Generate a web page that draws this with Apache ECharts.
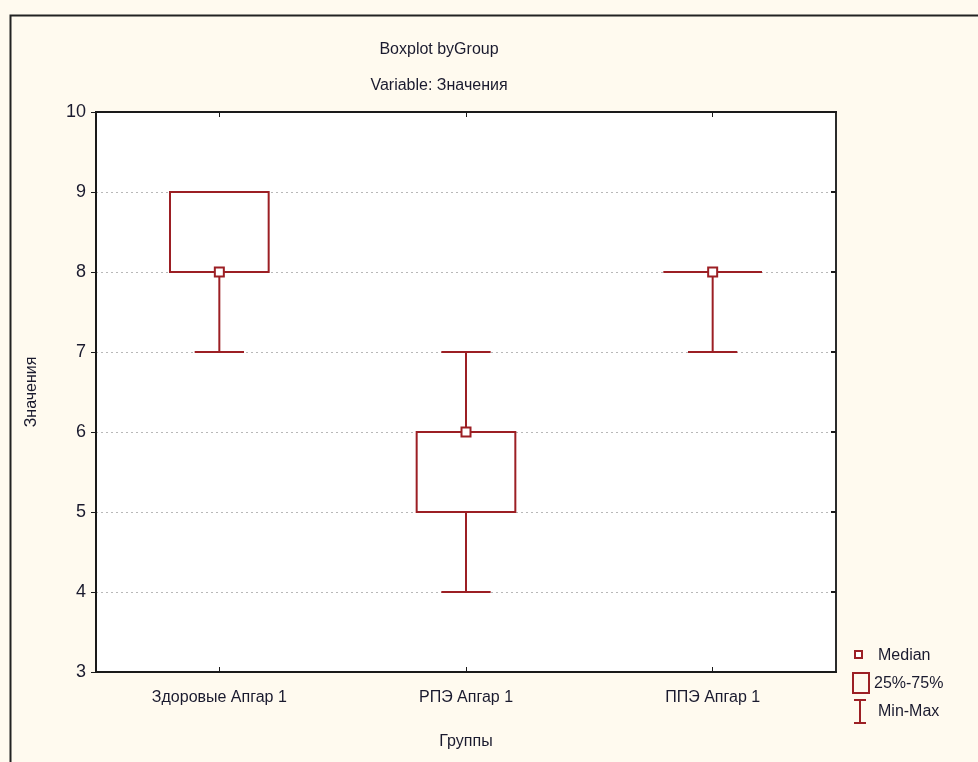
<!DOCTYPE html>
<html>
<head>
<meta charset="utf-8">
<script src="https://cdn.jsdelivr.net/npm/echarts@6/dist/echarts.min.js"></script>
<style>
html,body{margin:0;padding:0;background:#fffaef;}
#c{width:978px;height:762px;}
</style>
</head>
<body>
<div id="c"></div>
<script>
var categories = ['Здоровые Апгар 1', 'РПЭ Апгар 1', 'ППЭ Апгар 1'];
var mins    = [7, 4, 7];
var q1s     = [8, 5, 8];
var medians = [8, 6, 8];
var q3s     = [9, 6, 8];
var maxs    = [9, 7, 8];
var yTicks  = [3, 4, 5, 6, 7, 8, 9, 10];

var FONT = "'Liberation Sans Narrow', 'Liberation Sans', Arial, sans-serif";
var RED = '#9c1f24';

var data = categories.map(function (c, i) {
  return [i, mins[i], q1s[i], medians[i], q3s[i], maxs[i]];
});

var chart = echarts.init(document.getElementById('c'));

function renderItem(params, api) {
  var x = api.value(0);
  var pMin = api.coord([x, api.value(1)]);
  var pQ1 = api.coord([x, api.value(2)]);
  var pMed = api.coord([x, api.value(3)]);
  var pQ3 = api.coord([x, api.value(4)]);
  var pMax = api.coord([x, api.value(5)]);
  var bw = api.size([1, 0])[0] * 0.4;
  var cw = bw / 2;
  var cx = pMed[0];
  var st = { stroke: RED, lineWidth: 2, fill: null };
  var children = [];
  if (pMin[1] !== pQ1[1]) {
    children.push({ type: 'line', shape: { x1: cx, y1: pQ1[1], x2: cx, y2: pMin[1] }, style: st });
    children.push({ type: 'line', shape: { x1: cx - cw / 2, y1: pMin[1], x2: cx + cw / 2, y2: pMin[1] }, style: st });
  }
  if (pMax[1] !== pQ3[1]) {
    children.push({ type: 'line', shape: { x1: cx, y1: pQ3[1], x2: cx, y2: pMax[1] }, style: st });
    children.push({ type: 'line', shape: { x1: cx - cw / 2, y1: pMax[1], x2: cx + cw / 2, y2: pMax[1] }, style: st });
  }
  children.push({ type: 'rect', shape: { x: cx - bw / 2, y: pQ3[1], width: bw, height: Math.max(pQ1[1] - pQ3[1], 0) },
    style: { stroke: RED, lineWidth: 2, fill: pQ1[1] === pQ3[1] ? null : '#fff' } });
  children.push({ type: 'rect', shape: { x: cx - 4.5, y: pMed[1] - 4.5, width: 9, height: 9 },
    style: { stroke: RED, lineWidth: 2, fill: '#fff' } });
  return { type: 'group', children: children };
}

chart.setOption({
  backgroundColor: '#fffaef',
  animation: false,
  title: [
    { text: 'Boxplot byGroup', left: 434, top: 37, textAlign: 'center',
      textStyle: { fontFamily: FONT, fontSize: 16, fontWeight: 'normal', color: '#1a1a2e' } },
    { text: 'Variable: Значения', left: 434, top: 73, textAlign: 'center',
      textStyle: { fontFamily: FONT, fontSize: 16, fontWeight: 'normal', color: '#1a1a2e' } }
  ],
  grid: { left: 96, top: 112, right: 142, bottom: 90, show: true, backgroundColor: '#ffffff',
    borderColor: '#2b2b2b', borderWidth: 2 },
  xAxis: [
    { type: 'category', data: categories, boundaryGap: true,
      name: 'Группы', nameLocation: 'middle', nameGap: 62,
      nameTextStyle: { fontFamily: FONT, fontSize: 16, color: '#1a1a2e' },
      axisLine: { show: true, lineStyle: { color: '#1a1a1a', width: 2 } },
      axisTick: { show: true, inside: true, length: 5, alignWithLabel: true, lineStyle: { color: '#1a1a1a', width: 1 } },
      axisLabel: { fontFamily: FONT, fontSize: 16, color: '#1a1a2e', margin: 18 },
      splitLine: { show: false } },
    { type: 'category', data: categories, boundaryGap: true, position: 'top',
      axisLine: { show: true, lineStyle: { color: '#1a1a1a', width: 2 } },
      axisTick: { show: true, inside: true, length: 5, alignWithLabel: true, lineStyle: { color: '#1a1a1a', width: 1 } },
      axisLabel: { show: false }, splitLine: { show: false } }
  ],
  yAxis: [
    { type: 'value', min: 3, max: 10, interval: 1,
      name: 'Значения', nameLocation: 'middle', nameGap: 56, nameRotate: 90,
      nameTextStyle: { fontFamily: FONT, fontSize: 16, color: '#1a1a2e' },
      axisLine: { show: true, lineStyle: { color: '#1a1a1a', width: 2 } },
      axisTick: { show: true, inside: false, length: 5, lineStyle: { color: '#1a1a1a', width: 1 } },
      axisLabel: { fontFamily: 'Liberation Sans, Arial, sans-serif', fontSize: 18, color: '#1a1a2e', margin: 10,
        formatter: function (v) { return yTicks.indexOf(v) >= 0 ? String(v) : ''; } },
      splitLine: { show: true, lineStyle: { color: '#b8b8b8', type: [2, 3], width: 1 } } },
    { type: 'value', min: 3, max: 10, interval: 1, position: 'right',
      axisLine: { show: true, lineStyle: { color: '#2b2b2b', width: 2 } },
      axisTick: { show: true, inside: true, length: 5, lineStyle: { color: '#1a1a1a', width: 2 } },
      axisLabel: { show: false }, splitLine: { show: false } }
  ],
  series: [{
    type: 'custom', renderItem: renderItem, data: data, xAxisIndex: 0, yAxisIndex: 0,
    encode: { x: 0, y: [1, 2, 3, 4, 5] }, z: 10
  }],
  graphic: [
    { type: 'rect', left: 8, top: 13, shape: { width: 1000, height: 800 }, silent: true, z: -10,
      style: { fill: null, stroke: '#222', lineWidth: 2 } },
    { type: 'rect', shape: { x: 855, y: 651, width: 7, height: 7 }, style: { fill: '#fff', stroke: RED, lineWidth: 2 } },
    { type: 'text', x: 878, y: 656, style: { text: 'Median', font: '16px ' + FONT, fill: '#1a1a2e', verticalAlign: 'middle' } },
    { type: 'rect', shape: { x: 853, y: 673, width: 16, height: 20 }, style: { fill: null, stroke: RED, lineWidth: 2 } },
    { type: 'text', x: 874, y: 684, style: { text: '25%-75%', font: '16px ' + FONT, fill: '#1a1a2e', verticalAlign: 'middle' } },
    { type: 'line', shape: { x1: 854, y1: 700, x2: 866, y2: 700 }, style: { stroke: RED, lineWidth: 2 } },
    { type: 'line', shape: { x1: 860, y1: 700, x2: 860, y2: 723 }, style: { stroke: RED, lineWidth: 2 } },
    { type: 'line', shape: { x1: 854, y1: 723, x2: 866, y2: 723 }, style: { stroke: RED, lineWidth: 2 } },
    { type: 'text', x: 878, y: 712, style: { text: 'Min-Max', font: '16px ' + FONT, fill: '#1a1a2e', verticalAlign: 'middle' } }
  ]
});
</script>
</body>
</html>
